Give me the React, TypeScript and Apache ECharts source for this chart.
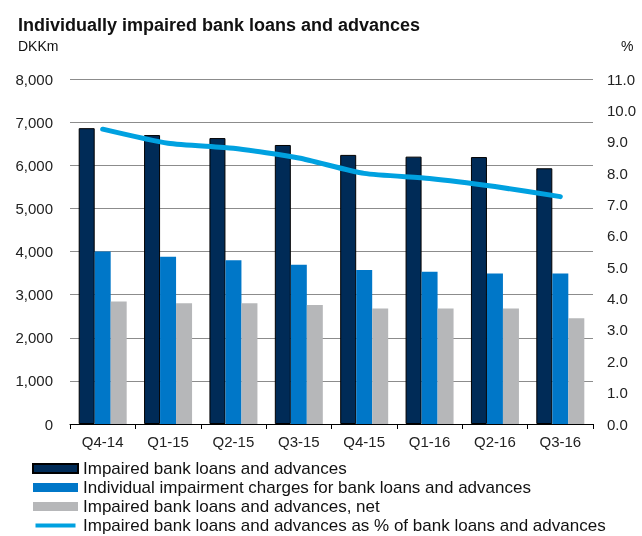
import React, { useEffect, useRef } from "react";
import * as echarts from "echarts";

const categories = ["Q4-14", "Q1-15", "Q2-15", "Q3-15", "Q4-15", "Q1-16", "Q2-16", "Q3-16"];
const impaired = [6860, 6700, 6630, 6470, 6240, 6200, 6190, 5930];
const charges = [4000, 3880, 3800, 3690, 3570, 3530, 3490, 3490];
const net = [2840, 2800, 2800, 2760, 2680, 2680, 2680, 2450];
const pct = [9.4, 8.95, 8.79, 8.48, 7.99, 7.83, 7.57, 7.25];
const seriesNames = [
  "Impaired bank loans and advances",
  "Individual impairment charges for bank loans and advances",
  "Impaired bank loans and advances, net",
  "Impaired bank loans and advances as % of bank loans and advances",
];

const FONT = "'Liberation Sans', Arial, sans-serif";

export default function App() {
  const ref = useRef<HTMLDivElement>(null);
  useEffect(() => {
    if (!ref.current) return;
    const chart = echarts.init(ref.current, undefined, { renderer: "svg" });
    chart.setOption({
      animation: false,
      textStyle: { fontFamily: FONT },
      graphic: [
        {
          type: "text",
          left: 18,
          top: 16,
          style: {
            text: "Individually impaired bank loans and advances",
            font: `bold 18px ${FONT}`,
            fill: "#111",
          },
        },
        {
          type: "text",
          left: 18,
          top: 39,
          style: { text: "DKKm", font: `14px ${FONT}`, fill: "#111" },
        },
        {
          type: "text",
          left: 621,
          top: 39,
          style: { text: "%", font: `14px ${FONT}`, fill: "#111" },
        },
      ],
      legend: {
        orient: "vertical",
        left: 32,
        top: 460,
        height: 120,
        itemWidth: 45,
        itemHeight: 9,
        itemGap: 2,
        padding: 0,
        textStyle: { fontSize: 17, color: "#111", lineHeight: 17, fontFamily: FONT },
        data: [
          { name: seriesNames[0], icon: "rect" },
          { name: seriesNames[1], icon: "rect" },
          { name: seriesNames[2], icon: "rect" },
          { name: seriesNames[3], icon: "path://M0,0 M0,2.5 L40,2.5 L40,6.5 L0,6.5 Z M40,9" },
        ],
      },
      grid: { left: 70, right: 49, top: 79, bottom: 112 },
      xAxis: {
        type: "category",
        data: categories,
        axisLine: { lineStyle: { color: "#000", width: 1 } },
        axisTick: { show: true, length: 5, lineStyle: { color: "#000" } },
        axisLabel: { color: "#222", fontSize: 15, margin: 10, fontFamily: FONT },
      },
      yAxis: [
        {
          type: "value",
          min: 0,
          max: 8000,
          interval: 1000,
          axisLine: { show: false },
          axisTick: { show: false },
          splitLine: { lineStyle: { color: "#8c8c8c", width: 1 } },
          axisLabel: {
            color: "#222",
            fontSize: 15,
            margin: 17,
            fontFamily: FONT,
            formatter: (v: number) => v.toLocaleString("en-US"),
          },
        },
        {
          type: "value",
          min: 0,
          max: 11,
          interval: 1,
          axisLine: { show: false },
          axisTick: { show: false },
          splitLine: { show: false },
          axisLabel: {
            color: "#222",
            fontSize: 15,
            margin: 14,
            fontFamily: FONT,
            formatter: (v: number) => v.toFixed(1),
          },
        },
      ],
      series: [
        {
          name: seriesNames[0],
          type: "bar",
          data: impaired,
          barWidth: 16,
          barGap: "0%",
          itemStyle: { color: "#002b57", borderColor: "#000", borderWidth: 1 },
        },
        {
          name: seriesNames[1],
          type: "bar",
          data: charges,
          barWidth: 16,
          barGap: "0%",
          itemStyle: { color: "#0077c8" },
        },
        {
          name: seriesNames[2],
          type: "bar",
          data: net,
          barWidth: 16,
          barGap: "0%",
          itemStyle: { color: "#b6b7b9" },
        },
        {
          name: seriesNames[3],
          type: "line",
          yAxisIndex: 1,
          data: pct,
          symbol: "none",
          smooth: 0.2,
          lineStyle: { color: "#00a1e0", width: 5, cap: "round" },
          itemStyle: { color: "#00a1e0" },
        },
      ],
    });
    return () => chart.dispose();
  }, []);
  return (
    <div
      ref={ref}
      style={{ position: "fixed", left: 0, top: 0, width: 642, height: 536 }}
    />
  );
}
